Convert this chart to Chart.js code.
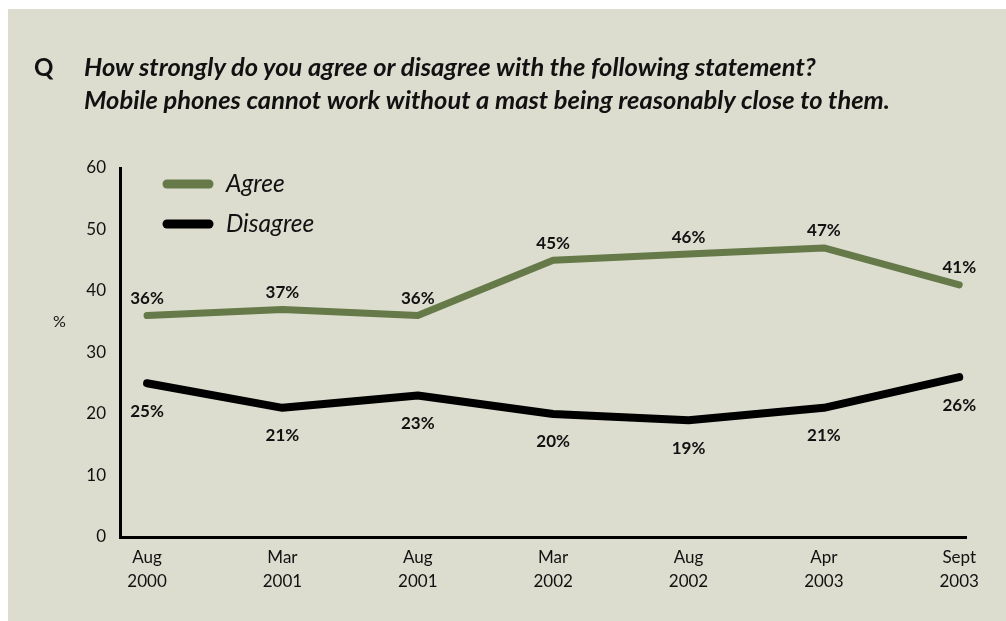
<!DOCTYPE html>
<html>
<head>
<meta charset="utf-8">
<script src="https://cdn.jsdelivr.net/npm/chart.js@4"></script>
<style>
  html, body { margin: 0; padding: 0; background: #ffffff; }
  #panel {
    position: absolute; left: 8px; top: 9px; width: 998px; height: 612px;
    background: #dcdccf;
  }
  #chart { position: absolute; left: 0; top: 0; }
  .q {
    position: absolute; left: 26px; top: 41px;
    font: bold 24px "Lato", sans-serif; color: #111; line-height: 33px;
  }
  .question {
    position: absolute; left: 76px; top: 41px;
    font: italic bold 25.5px "Lato", sans-serif; color: #111; line-height: 33px;
    white-space: nowrap;
  }
  .unit {
    position: absolute; left: 45px; top: 302px;
    font: 16px "Lato", sans-serif; color: #111;
  }
</style>
</head>
<body>
<div id="panel">
  <canvas id="chart" width="998" height="612"></canvas>
  <div class="q">Q</div>
  <div class="question">How strongly do you agree or disagree with the following statement?<br>Mobile phones cannot work without a mast being reasonably close to them.</div>
  <div class="unit">%</div>
</div>
<script>
var surveyDates = [["Aug", "2000"], ["Mar", "2001"], ["Aug", "2001"], ["Mar", "2002"], ["Aug", "2002"], ["Apr", "2003"], ["Sept", "2003"]];
var agreeValues = [36, 37, 36, 45, 46, 47, 41];
var disagreeValues = [25, 21, 23, 20, 19, 21, 26];
var yTicks = [0, 10, 20, 30, 40, 50, 60];

var green = "#657a48";

function toPoints(values) {
  return values.map(function(v, i) { return { x: i, y: v }; });
}

// value labels above the green line, below the black one
var valueLabels = {
  id: "valueLabels",
  afterDatasetsDraw: function(chart) {
    var ctx = chart.ctx;
    ctx.save();
    ctx.font = "bold 17px Lato, sans-serif";
    ctx.fillStyle = "#111";
    ctx.textAlign = "center";
    ctx.textBaseline = "middle";
    chart.data.datasets.forEach(function(ds, di) {
      var meta = chart.getDatasetMeta(di);
      meta.data.forEach(function(pt, i) {
        var dy = ds.labelAbove ? -17 : 28;
        ctx.fillText(ds.data[i].y + "%", pt.x, pt.y + dy);
      });
    });
    ctx.restore();
  }
};

// stacked legend inside the plot, top left
var lineLegend = {
  id: "lineLegend",
  afterDraw: function(chart) {
    var ctx = chart.ctx;
    var x0 = chart.chartArea.left + 47;
    var y0 = chart.chartArea.top + 16;
    ctx.save();
    ctx.font = "italic 24.5px Lato, sans-serif";
    ctx.textBaseline = "middle";
    chart.data.datasets.forEach(function(ds, i) {
      var y = y0 + i * 40;
      ctx.strokeStyle = ds.borderColor;
      ctx.lineWidth = 9;
      ctx.lineCap = "round";
      ctx.beginPath();
      ctx.moveTo(x0, y);
      ctx.lineTo(x0 + 42, y);
      ctx.stroke();
      ctx.fillStyle = "#111";
      ctx.fillText(ds.label, x0 + 59, y);
    });
    ctx.restore();
  }
};

new Chart(document.getElementById("chart").getContext("2d"), {
  type: "line",
  data: {
    datasets: [
      {
        label: "Agree",
        data: toPoints(agreeValues),
        borderColor: green,
        borderWidth: 7,
        pointRadius: 0,
        tension: 0,
        borderCapStyle: "round",
        borderJoinStyle: "round",
        labelAbove: true
      },
      {
        label: "Disagree",
        data: toPoints(disagreeValues),
        borderColor: "#000000",
        borderWidth: 8,
        pointRadius: 0,
        tension: 0,
        borderCapStyle: "round",
        borderJoinStyle: "round",
        labelAbove: false
      }
    ]
  },
  options: {
    responsive: false,
    animation: false,
    layout: { padding: { left: 0, top: 159, right: 40, bottom: 0 } },
    plugins: { legend: { display: false }, tooltip: { enabled: false } },
    scales: {
      x: {
        type: "linear",
        min: -0.2,
        max: 6.05,
        afterBuildTicks: function(scale) {
          scale.ticks = surveyDates.map(function(_, i) { return { value: i }; });
        },
        afterFit: function(scale) { scale.height = 84; },
        grid: { display: true, drawOnChartArea: false, drawTicks: false },
        border: { display: true, color: "#000", width: 3 },
        ticks: {
          padding: 9,
          maxRotation: 0,
          autoSkip: false,
          color: "#111",
          font: { family: "Lato", size: 17, lineHeight: 1.4 },
          callback: function(v) { return surveyDates[v]; }
        }
      },
      y: {
        min: 0,
        max: 60,
        afterBuildTicks: function(scale) {
          scale.ticks = yTicks.map(function(v) { return { value: v }; });
        },
        afterFit: function(scale) { scale.width = 112; },
        grid: { display: true, drawOnChartArea: false, drawTicks: false },
        border: { display: true, color: "#000", width: 3 },
        ticks: {
          padding: 14,
          color: "#111",
          font: { family: "Lato", size: 17 }
        }
      }
    }
  },
  plugins: [valueLabels, lineLegend]
});
</script>
</body>
</html>
